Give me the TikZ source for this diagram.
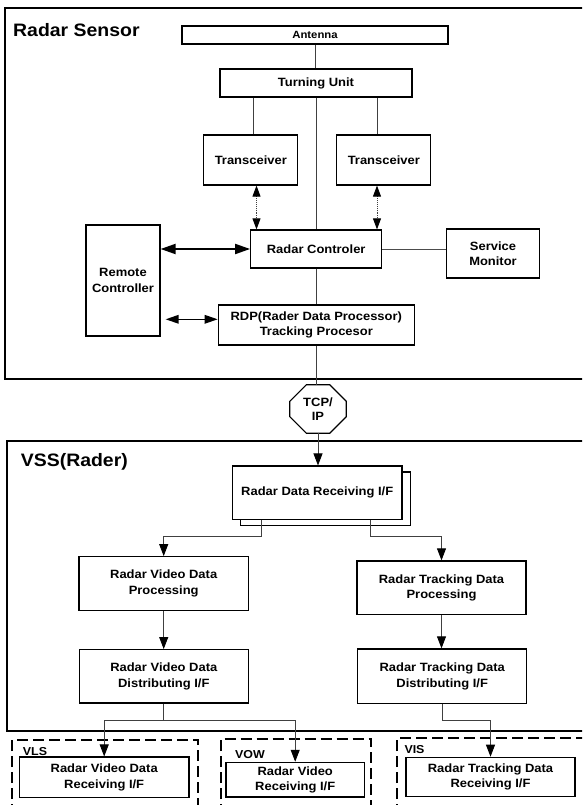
\documentclass[tikz,border=0pt]{standalone}
\usepackage{fontspec}
\setmainfont{Liberation Sans}[FakeStretch=1.08]
\usetikzlibrary{arrows.meta,calc}
\begin{document}
\begin{tikzpicture}[x=1pt,y=-1pt,
  box/.style={draw=black,line width=1.2pt,fill=white,inner sep=0pt,align=center,
    font=\fontsize{12}{15.5}\selectfont\bfseries},
  heading/.style={anchor=base west,inner sep=0pt,font=\fontsize{18}{20}\selectfont\bfseries},
  grplabel/.style={anchor=base west,inner sep=0pt,font=\fontsize{11.5}{13}\selectfont\bfseries},
  frame/.style={line width=2pt},
  grp/.style={line width=2pt,dash pattern=on 11pt off 5pt},
  wire/.style={line width=0.9pt,black!75},
  tip/.style={-{Triangle[length=12pt,width=9pt,color=black]}},
  dtip/.style={{Triangle[length=11pt,width=8pt,color=black]}-{Triangle[length=11pt,width=8pt,color=black]}},
  bigdtip/.style={line width=2pt,{Triangle[length=15pt,width=10pt]}-{Triangle[length=15pt,width=10pt]}},
  middtip/.style={line width=1.6pt,{Triangle[length=13pt,width=8.5pt]}-{Triangle[length=13pt,width=8.5pt]}}
]
\useasboundingbox (0,0) rectangle (582,805);
\fill[white] (0,0) rectangle (582,805);
\clip (0,0) rectangle (582,805);

% ---------- outer frames ----------
\draw[frame] (590,8.3) -- (5,8.3) -- (5,379.3) -- (590,379.3);
\draw[frame] (590,440.7) -- (6.7,440.7) -- (6.7,730.7) -- (590,730.7);
\node[heading] (hsensor) at (13,37) {Radar Sensor};
\node[heading] (hvss) at (20.7,466) {VSS(Rader)};

% ---------- radar sensor ----------
\node[box,minimum width=266pt,minimum height=18pt,font=\fontsize{10.5}{12}\selectfont\bfseries] (ant) at (315,35) {Antenna};
\node[box,minimum width=192pt,minimum height=28pt] (turn) at (316,83) {Turning Unit};
\node[box,minimum width=94pt,minimum height=50pt] (tr1) at (250.8,160) {Transceiver};
\node[box,minimum width=94pt,minimum height=50pt] (tr2) at (383.8,160) {Transceiver};
\node[box,minimum width=131pt,minimum height=38pt] (rc) at (316.2,249) {Radar Controler};
\node[box,minimum width=92.6pt,minimum height=49pt] (sm) at (493,253.5) {Service\\Monitor};
\node[box,minimum width=74pt,minimum height=111pt] (rem) at (123,280.5) {Remote\\Controller};
\node[box,minimum width=196pt,minimum height=40pt] (rdp) at (316.3,325) {RDP(Rader Data Processor)\\Tracking Procesor};

% TCP/IP gateway (octagon drawn around an invisible node)
\node[inner sep=0pt,minimum width=56pt,minimum height=48pt,align=center,
  font=\fontsize{12}{14}\selectfont\bfseries] (tcp) at (318,409) {TCP/\\IP};
\draw[line width=1.2pt]
  ($(tcp.north west)+(16.5,0)$) -- ($(tcp.north east)+(-16.5,0)$) --
  ($(tcp.north east)+(0,16.5)$) -- ($(tcp.south east)+(0,-16.5)$) --
  ($(tcp.south east)+(-16.5,0)$) -- ($(tcp.south west)+(16.5,0)$) --
  ($(tcp.south west)+(0,-16.5)$) -- ($(tcp.north west)+(0,16.5)$) -- cycle;

\coordinate (xa) at (253,0);
\coordinate (xb) at (256.5,0);
\coordinate (xc) at (377,0);

\draw[wire] (ant.south) -- (ant.south |- turn.north);
\draw[wire] (turn.south) -- (turn.south |- rc.north);
\draw[wire] (turn.south -| xa) -- (tr1.north -| xa);
\draw[wire] (turn.south -| xc) -- (tr2.north -| xc);
\draw[wire,densely dotted,dtip] (tr1.south -| xb) -- (rc.north -| xb);
\draw[wire,densely dotted,dtip] (tr2.south -| xc) -- (rc.north -| xc);
\draw[line width=1pt,black!70] (rc.east) -- (sm.west |- rc.east);
\draw[bigdtip] (rem.east |- rc.west) -- (rc.west);
\coordinate (ra) at ([yshift=5.7pt]rdp.west);
\coordinate (rb) at (ra -| rem.east);
\draw[middtip] ([xshift=5pt]rb) -- (ra);
\draw[wire] (rc.south) -- (rc.south |- rdp.north);
\draw[wire] (rdp.south) -- (rdp.south |- tcp.north);

% ---------- VSS ----------
\node[draw=black,line width=1.2pt,inner sep=0pt,minimum width=169.7pt,minimum height=53.3pt] (rxs) at (325.6,498.7) {};
\node[box,minimum width=169.7pt,minimum height=53.3pt] (rx) at (317.2,492.7) {Radar Data Receiving I/F};
\node[box,minimum width=169.3pt,minimum height=53.6pt] (vproc) at (163.7,583.5) {Radar Video Data\\Processing};
\node[box,minimum width=169pt,minimum height=53.7pt] (tproc) at (441.5,587.8) {Radar Tracking Data\\Processing};
\node[box,minimum width=169pt,minimum height=53.3pt] (vdist) at (163.8,676.3) {Radar Video Data\\Distributing I/F};
\node[box,minimum width=169pt,minimum height=54.7pt] (tdist) at (442.2,676.3) {Radar Tracking Data\\Distributing I/F};

\draw[wire,tip] (tcp.south) -- (tcp.south |- rx.north);
\coordinate (jl) at (261,536);
\coordinate (jr) at (370.3,536);
\draw[wire,tip] (rx.south -| jl) -- (jl) -| (vproc.north);
\draw[wire,tip] (rx.south -| jr) -- (jr) -| (tproc.north);
\draw[wire,tip] (vproc.south) -- (vproc.south |- vdist.north);
\draw[wire,tip] (tproc.south) -- (tproc.south |- tdist.north);

% ---------- receiving systems ----------
\draw[grp] (12.3,815) -- (12.3,739.7) -- (198.3,739.7) -- (198.3,815);
\draw[grp] (221,815) -- (221,738.7) -- (371,738.7) -- (371,815);
\draw[grp] (397,815) -- (397,738.3) -- (595,738.3);
\node[grplabel] (lvls) at (22.7,755.3) {VLS};
\node[grplabel] (lvow) at (235,758.7) {VOW};
\node[grplabel] (lvis) at (404.3,753) {VIS};

\node[box,minimum width=169.7pt,minimum height=40.3pt] (vlsin) at (104.2,777.2) {Radar Video Data\\Receiving I/F};
\node[box,minimum width=138.3pt,minimum height=34.7pt] (vowin) at (295.2,779.7) {Radar Video\\Receiving I/F};
\node[box,minimum width=169pt,minimum height=39pt] (visin) at (490.5,776.8) {Radar Tracking Data\\Receiving I/F};

\coordinate (bv) at (163.5,720.7);
\draw[wire] (vdist.south) -- (vdist.south |- bv);
\draw[wire,tip] (vdist.south |- bv) -| (vlsin.north);
\draw[wire,tip] (vdist.south |- bv) -| (vowin.north);
\draw[wire,tip] (tdist.south) -- ++(0,16.3) -| (visin.north);
\end{tikzpicture}
\end{document}
